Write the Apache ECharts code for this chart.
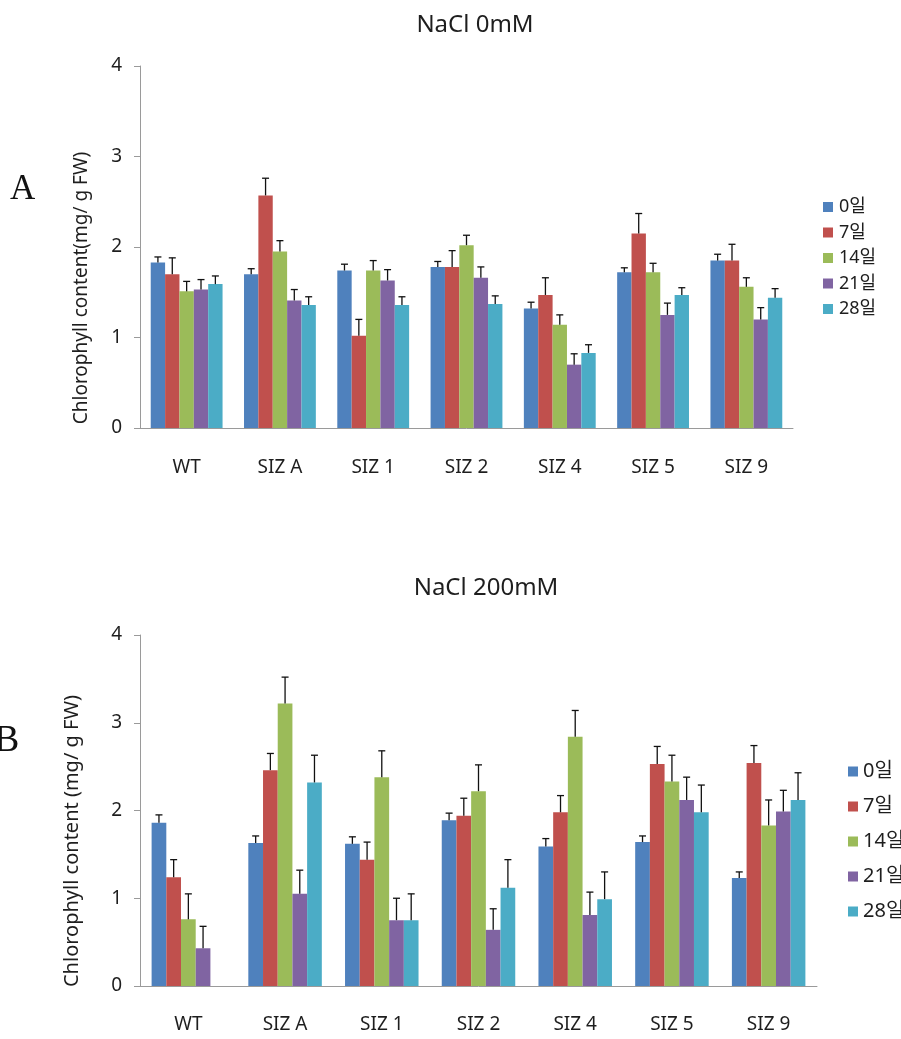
<!DOCTYPE html>
<html>
<head>
<meta charset="utf-8">
<script src="https://cdn.jsdelivr.net/npm/echarts@6/dist/echarts.min.js"></script>
<style>
html,body{margin:0;padding:0;background:#fff;}
#c{width:901px;height:1039px;}
</style>
</head>
<body>
<div id="c"></div>
<script>
// ---- data ----
const categories = ['WT', 'SIZ A', 'SIZ 1', 'SIZ 2', 'SIZ 4', 'SIZ 5', 'SIZ 9'];
const days = ['0일', '7일', '14일', '21일', '28일'];
const yTicks = [0, 1, 2, 3, 4];

// Panel A: NaCl 0mM (means, error amounts)
const a_d0  = [1.83, 1.70, 1.74, 1.78, 1.32, 1.72, 1.85];
const a_d7  = [1.70, 2.57, 1.02, 1.78, 1.47, 2.15, 1.85];
const a_d14 = [1.51, 1.95, 1.74, 2.02, 1.14, 1.72, 1.56];
const a_d21 = [1.53, 1.41, 1.63, 1.66, 0.70, 1.25, 1.20];
const a_d28 = [1.59, 1.36, 1.36, 1.37, 0.83, 1.47, 1.44];
const a_e0  = [0.06, 0.06, 0.07, 0.06, 0.07, 0.05, 0.07];
const a_e7  = [0.18, 0.19, 0.18, 0.18, 0.19, 0.22, 0.18];
const a_e14 = [0.11, 0.12, 0.11, 0.11, 0.11, 0.10, 0.10];
const a_e21 = [0.11, 0.12, 0.12, 0.12, 0.12, 0.13, 0.13];
const a_e28 = [0.09, 0.09, 0.09, 0.09, 0.09, 0.08, 0.10];

// Panel B: NaCl 200mM
const b_d0  = [1.86, 1.63, 1.62, 1.89, 1.59, 1.64, 1.23];
const b_d7  = [1.24, 2.46, 1.44, 1.94, 1.98, 2.53, 2.54];
const b_d14 = [0.76, 3.22, 2.38, 2.22, 2.84, 2.33, 1.83];
const b_d21 = [0.43, 1.05, 0.75, 0.64, 0.81, 2.12, 1.99];
const b_d28 = [null, 2.32, 0.75, 1.12, 0.99, 1.98, 2.12];
const b_e0  = [0.09, 0.08, 0.08, 0.08, 0.09, 0.07, 0.07];
const b_e7  = [0.20, 0.19, 0.20, 0.20, 0.19, 0.20, 0.20];
const b_e14 = [0.29, 0.30, 0.30, 0.30, 0.30, 0.30, 0.29];
const b_e21 = [0.25, 0.27, 0.25, 0.24, 0.26, 0.26, 0.24];
const b_e28 = [null, 0.31, 0.30, 0.32, 0.31, 0.31, 0.31];

// ---- styling ----
const colors = ['#4F81BD', '#C0504D', '#9BBB59', '#8064A2', '#4BACC6'];
const FONT = '"Noto Sans", "Noto Sans CJK KR", sans-serif';
const TXT = '#1e1e1e';
const AXIS = '#9a9a9a';

const panels = [
  { vals: [a_d0, a_d7, a_d14, a_d21, a_d28], errs: [a_e0, a_e7, a_e14, a_e21, a_e28], gap: 0.23 },
  { vals: [b_d0, b_d7, b_d14, b_d21, b_d28], errs: [b_e0, b_e7, b_e14, b_e21, b_e28], gap: 0.24 }
];

const series = [];
panels.forEach((p, pi) => {
  p.vals.forEach((arr, k) => {
    series.push({
      type: 'bar', name: days[k], xAxisIndex: pi, yAxisIndex: pi,
      data: arr.map(v => v == null ? '-' : v),
      barGap: '0%', barCategoryGap: (p.gap * 100) + '%',
      itemStyle: { color: colors[k] }, silent: true
    });
  });
  p.vals.forEach((arr, k) => {
    const data = arr.map((v, i) => [i, v, p.errs[k][i]]).filter(d => d[1] != null);
    series.push({
      type: 'custom', name: 'err' + pi + '_' + k, xAxisIndex: pi, yAxisIndex: pi,
      data: data, encode: { x: 0, y: 1 }, z: 5, silent: true,
      renderItem: function (params, api) {
        const ci = api.value(0), v = api.value(1), e = api.value(2);
        const base = api.coord([ci, v]);
        const top = api.coord([ci, v + e]);
        const band = api.size([1, 0])[0];
        const bw = band * (1 - p.gap) / 5;
        const x = base[0] + (k - 2) * bw;
        const st = { stroke: '#111', lineWidth: 1.3 };
        return {
          type: 'group', children: [
            { type: 'line', shape: { x1: x, y1: base[1], x2: x, y2: top[1] }, style: st },
            { type: 'line', shape: { x1: x - 3.5, y1: top[1], x2: x + 3.5, y2: top[1] }, style: st }
          ]
        };
      }
    });
  });
});

function xAxis(gi, fs, margin) {
  return {
    type: 'category', gridIndex: gi, data: categories,
    axisLine: { lineStyle: { color: AXIS, width: 1 } },
    axisTick: { show: false },
    axisLabel: { color: TXT, fontSize: fs, fontFamily: FONT, margin: margin }
  };
}
function yAxis(gi, fs) {
  return {
    type: 'value', gridIndex: gi, min: yTicks[0], max: yTicks[yTicks.length - 1], interval: 1,
    splitLine: { show: false },
    axisLine: { show: true, lineStyle: { color: AXIS, width: 1 } },
    axisTick: { show: true, length: 6, lineStyle: { color: AXIS } },
    axisLabel: { color: TXT, fontSize: fs, fontFamily: FONT, margin: 18 }
  };
}

const chart = echarts.init(document.getElementById('c'), null, { renderer: 'canvas' });
chart.setOption({
  animation: false,
  backgroundColor: '#ffffff',
  title: [
    { text: 'NaCl 0mM', left: 470, top: 8, textAlign: 'center',
      textStyle: { fontSize: 24, fontWeight: 'normal', color: TXT, fontFamily: FONT } },
    { text: 'NaCl 200mM', left: 481, top: 571, textAlign: 'center',
      textStyle: { fontSize: 24, fontWeight: 'normal', color: TXT, fontFamily: FONT } }
  ],
  legend: [
    { data: days, orient: 'vertical', left: 818, top: 193, itemWidth: 10, itemHeight: 10, itemGap: 7.5,
      icon: 'rect', selectedMode: false,
      textStyle: { fontSize: 18, color: TXT, fontFamily: FONT, lineHeight: 18, padding: [0, 0, 0, 1] } },
    { data: days, orient: 'vertical', left: 843, top: 756, itemWidth: 10, itemHeight: 10, itemGap: 14,
      icon: 'rect', selectedMode: false,
      textStyle: { fontSize: 20, color: TXT, fontFamily: FONT, lineHeight: 21, padding: [0, 0, 0, 0] } }
  ],
  grid: [
    { left: 140, top: 66, right: 108, bottom: 611 },
    { left: 140, top: 635, right: 84, bottom: 53 }
  ],
  xAxis: [xAxis(0, 19, 30), xAxis(1, 19, 29)],
  yAxis: [yAxis(0, 19), yAxis(1, 19)],
  graphic: [
    { type: 'text', left: 10, top: 172, style: { text: 'A', font: '35px "Liberation Serif", "DejaVu Serif", serif', fill: '#111' } },
    { type: 'text', left: -6, top: 722, style: { text: 'B', font: '38px "Liberation Serif", "DejaVu Serif", serif', fill: '#111' } },
    { type: 'text', x: 82, y: 288, rotation: Math.PI / 2,
      style: { text: 'Chlorophyll content(mg/ g FW)', font: '19px "Noto Sans", sans-serif', fill: TXT, align: 'center', verticalAlign: 'middle' } },
    { type: 'text', x: 72, y: 841, rotation: Math.PI / 2,
      style: { text: 'Chlorophyll content (mg/ g FW)', font: '20px "Noto Sans", sans-serif', fill: TXT, align: 'center', verticalAlign: 'middle' } }
  ],
  series: series
});
</script>
</body>
</html>
